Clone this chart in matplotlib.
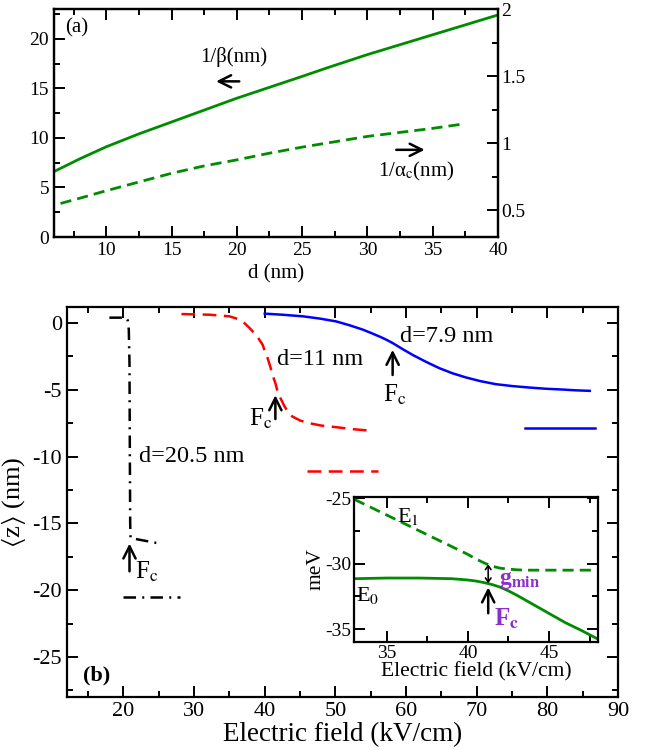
import matplotlib
matplotlib.use('Agg')
import matplotlib.pyplot as plt
from matplotlib.ticker import MultipleLocator

plt.rcParams['font.family'] = ['Liberation Serif', 'DejaVu Serif']
plt.rcParams['mathtext.fontset'] = 'stix'
plt.rcParams['axes.unicode_minus'] = False

VERDE = '#008c00'
MORADO = '#8b2fc9'

# panel (a)
d_beta = [6, 8, 10, 12.5, 15, 17.5, 20, 22.5, 25, 27, 30, 32.5, 35, 37.5, 40]
inv_beta = [6.6, 7.9, 9.1, 10.4, 11.6, 12.8, 14.0, 15.1, 16.2, 17.1, 18.4, 19.4, 20.4, 21.4, 22.4]
d_alpha = [6.5, 8, 10, 12.5, 15, 17.5, 20, 22.5, 25, 27.5, 30, 32.5, 35, 37.5]
inv_alpha = [0.55, 0.59, 0.645, 0.71, 0.775, 0.83, 0.875, 0.925, 0.97, 1.01, 1.05, 1.08, 1.11, 1.145]

# panel (b): <z> frente al campo
F_205 = [18, 19, 20, 20.4, 20.6, 20.75, 20.85, 20.9, 20.95, 21, 22, 23, 24, 25]
z_205 = [0.4, 0.4, 0.4, 0.38, 0.2, -0.5, -3.0, -10.0, -15.0, -16.1, -16.2, -16.3, -16.4, -16.5]
F_205_lim = [20, 28]
z_205_lim = [-20.5, -20.5]

F_11 = [28.2, 32.2, 35.0, 36.2, 37.1, 37.8, 38.5, 39.1, 39.7, 40.0, 40.4, 40.8, 41.1, 41.5,
        41.8, 42.2, 42.8, 43.3, 43.9, 45.0, 46.3, 48.0, 50.1, 52.5, 55.3]
z_11 = [0.67, 0.62, 0.5, 0.3, 0.0, -0.35, -0.75, -1.15, -1.63, -2.1, -2.63, -3.3, -3.9, -4.5,
        -5.1, -5.6, -6.25, -6.65, -7.0, -7.3, -7.5, -7.68, -7.8, -7.95, -8.08]
F_11_lim = [46, 56]
z_11_lim = [-11.05, -11.05]

F_79 = [40.0, 42.5, 45.4, 47.8, 50.1, 52.0, 53.9, 55.2, 56.4, 57.2, 58.1, 59.5, 60.9, 62.8,
        64.7, 66.6, 68.5, 70.5, 72.7, 75.0, 77.4, 79.7, 82.1, 84.0, 86.0]
z_79 = [0.7, 0.62, 0.5, 0.33, 0.12, -0.17, -0.5, -0.78, -1.05, -1.25, -1.5, -1.95, -2.38, -2.9,
        -3.38, -3.77, -4.08, -4.35, -4.58, -4.72, -4.83, -4.92, -4.98, -5.04, -5.08]
F_79_lim = [76.9, 86.8]
z_79_lim = [-7.88, -7.88]

# inset: niveles de energia
F_ins = [33, 35, 37, 39, 40, 40.5, 41, 41.5, 42, 42.5, 43, 43.5, 44, 45, 46, 47, 48]
E1 = [-25.1, -26.3, -27.5, -28.7, -29.3, -29.65, -29.95, -30.2, -30.35, -30.42, -30.47, -30.5,
      -30.5, -30.5, -30.5, -30.5, -30.5]
E0 = [-31.15, -31.1, -31.1, -31.15, -31.25, -31.33, -31.45, -31.6, -31.8, -32.08, -32.4, -32.75,
      -33.1, -33.8, -34.5, -35.1, -35.75]


def estilo(ax, sz):
    for s in ax.spines.values():
        s.set_linewidth(1.6)
    ax.tick_params(which='both', direction='in', width=1.4, labelsize=sz)
    ax.tick_params(which='major', length=8)
    ax.tick_params(which='minor', length=4)


fig = plt.figure(figsize=(6.49, 7.5), dpi=100)
flecha = dict(arrowstyle='->', lw=1.8, color='black', mutation_scale=22)

# ---------- (a)
ax1 = fig.add_axes([0.0832, 0.684, 0.6841, 0.304])
ax1.plot(d_beta, inv_beta, color=VERDE, lw=2)
ax1.set_xlim(6, 40)
ax1.set_ylim(0, 23)
ax1.xaxis.set_major_locator(MultipleLocator(5))
ax1.xaxis.set_minor_locator(MultipleLocator(2.5))
ax1.yaxis.set_major_locator(MultipleLocator(5))
ax1.yaxis.set_minor_locator(MultipleLocator(2.5))
estilo(ax1, 14)
ax1.tick_params(which='both', top=True)
ax1.set_xlabel('d (nm)', fontsize=15, labelpad=4)

ax1b = ax1.twinx()
ax1b.plot(d_alpha, inv_alpha, color=VERDE, lw=2, linestyle=(0, (4, 2.2)))
ax1b.set_ylim(0.3, 2)
ax1b.yaxis.set_major_locator(MultipleLocator(0.5))
ax1b.yaxis.set_minor_locator(MultipleLocator(0.25))
ax1b.set_yticks([0.5, 1, 1.5, 2])
ax1b.set_yticklabels(['0.5', '1', '1.5', '2'])
estilo(ax1b, 14)
ax1b.tick_params(axis='y', pad=2)

ax1.text(7.7, 21.1, '(a)', fontsize=15, ha='center', va='center')
ax1.text(17.2, 18.2, '1/β(nm)', fontsize=15, ha='left', va='center')
ax1.annotate('', xy=(18.2, 15.7), xytext=(20.4, 15.7), arrowprops=flecha)
ax1b.text(30.8, 0.79, '1/α$_\\mathrm{c}$(nm)', fontsize=15, ha='left', va='center')
ax1b.annotate('', xy=(34.6, 0.95), xytext=(32.0, 0.95), arrowprops=flecha)

# ---------- (b)
ax2 = fig.add_axes([0.1032, 0.0707, 0.849, 0.52])
punto_raya = (0, (5, 2.5, 0.8, 2.5))
ax2.plot(F_205, z_205, color='black', lw=1.8, linestyle=punto_raya)
ax2.plot(F_205_lim, z_205_lim, color='black', lw=1.8, linestyle=punto_raya)
ax2.plot(F_11, z_11, color='red', lw=1.8, linestyle=(0, (5.5, 3)))
ax2.plot(F_11_lim, z_11_lim, color='red', lw=1.8, linestyle=(0, (5.5, 3)))
ax2.plot(F_79, z_79, color='blue', lw=1.8)
ax2.plot(F_79_lim, z_79_lim, color='blue', lw=1.8)
ax2.set_xlim(12, 90)
ax2.set_ylim(-28, 1.2)
ax2.xaxis.set_major_locator(MultipleLocator(10))
ax2.xaxis.set_minor_locator(MultipleLocator(5))
ax2.yaxis.set_major_locator(MultipleLocator(5))
ax2.yaxis.set_minor_locator(MultipleLocator(2.5))
estilo(ax2, 16)
ax2.tick_params(which='both', top=True, right=True)
ax2.set_xticks(range(20, 91, 10))
ax2.set_xlabel('Electric field (kV/cm)', fontsize=19.5, labelpad=1)
ax2.set_ylabel('$\\langle$z$\\rangle$ (nm)', fontsize=19, labelpad=3)

ax2.text(22.2, -10.0, 'd=20.5 nm', fontsize=17.5, ha='left', va='center')
ax2.text(41.8, -2.7, 'd=11 nm', fontsize=17.5, ha='left', va='center')
ax2.text(59.2, -1.0, 'd=7.9 nm', fontsize=17.5, ha='left', va='center')
ax2.text(14.2, -26.4, '(b)', fontsize=16, fontweight='bold', ha='left', va='center')

ax2.annotate('', xy=(20.85, -16.3), xytext=(20.85, -18.8), arrowprops=flecha)
ax2.text(21.6, -18.6, 'F$_\\mathrm{c}$', fontsize=18, ha='left', va='center')
ax2.annotate('', xy=(41.5, -5.2), xytext=(41.5, -7.4), arrowprops=flecha)
ax2.text(41.1, -7.2, 'F$_\\mathrm{c}$', fontsize=18, ha='right', va='center')
ax2.annotate('', xy=(58.1, -1.8), xytext=(58.1, -4.1), arrowprops=flecha)
ax2.text(58.4, -5.4, 'F$_\\mathrm{c}$', fontsize=18, ha='center', va='center')

# ---------- inset
ax3 = fig.add_axes([0.546, 0.1436, 0.375, 0.1941])
ax3.plot(F_ins, E1, color=VERDE, lw=2, linestyle=(0, (4, 2.2)))
ax3.plot(F_ins, E0, color=VERDE, lw=2)
ax3.set_xlim(33, 48)
ax3.set_ylim(-36, -24.9)
ax3.xaxis.set_major_locator(MultipleLocator(5))
ax3.xaxis.set_minor_locator(MultipleLocator(2.5))
ax3.yaxis.set_major_locator(MultipleLocator(5))
ax3.yaxis.set_minor_locator(MultipleLocator(2.5))
estilo(ax3, 14)
ax3.tick_params(which='both', top=True, right=True, pad=2)
ax3.set_xlabel('Electric field (kV/cm)', fontsize=15.5, labelpad=0)
ax3.set_ylabel('meV', fontsize=15.5, labelpad=0)

ax3.text(36.3, -26.4, 'E$_\\mathrm{1}$', fontsize=16, ha='center', va='center')
ax3.text(33.1, -32.4, 'E$_\\mathrm{0}$', fontsize=16, ha='left', va='center')
ax3.annotate('', xy=(41.25, -30.05), xytext=(41.25, -31.5),
             arrowprops=dict(arrowstyle='<->, head_length=0.35, head_width=0.25',
                             lw=1.2, color='black', mutation_scale=8, shrinkA=0, shrinkB=0))
ax3.annotate('', xy=(41.25, -31.6), xytext=(41.25, -34.0), arrowprops=flecha)
ax3.text(41.9, -31.3, 'g$_\\mathbf{min}$', fontsize=17, fontweight='bold', color=MORADO,
         ha='left', va='center')
ax3.text(41.6, -34.2, 'F$_\\mathbf{c}$', fontsize=18, fontweight='bold', color=MORADO,
         ha='left', va='center')

fig.savefig('out.png', dpi=100)
